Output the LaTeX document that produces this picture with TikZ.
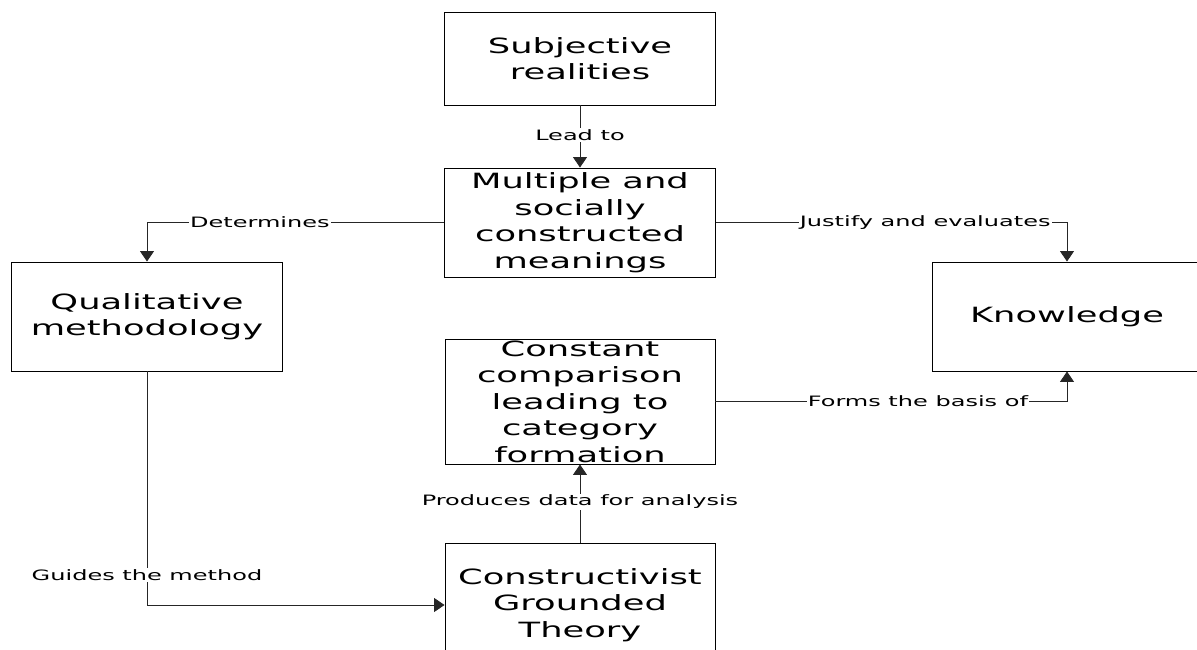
\documentclass[tikz,border=0pt]{standalone}
\usepackage{fontspec}
\newfontfamily\dv[FakeStretch=1.68]{DejaVu Sans}
\usetikzlibrary{arrows.meta}
\tikzset{
  box/.style={draw=black, line width=0.9pt, fill=white, align=center, inner sep=0pt,
    font=\dv\fontsize{21}{26.5}\selectfont},
  conn/.style={draw=black!85, line width=0.9pt},
  arr/.style={conn, -{Triangle[width=14pt,length=10.5pt]}},
  lbl/.style={fill=white, inner sep=1.2pt, font=\dv\fontsize{14.3}{16}\selectfont}
}
\begin{document}
\begin{tikzpicture}[x=1pt,y=-1pt]
\useasboundingbox (0,0) rectangle (1197,650);
\node[box, minimum width=271pt, minimum height=93pt] (sub) at (580,58.5) {Subjective\\realities};
\node[box, minimum width=271pt, minimum height=109pt] (mult) at (580,222.5) {Multiple and\\socially\\constructed\\meanings};
\node[box, minimum width=271pt, minimum height=109pt] (qual) at (147,316.5) {Qualitative\\methodology};
\node[box, minimum width=270pt, minimum height=109pt] (know) at (1067,316.5) {Knowledge};
\node[box, minimum width=270pt, minimum height=125pt] (const) at (580,401.5) {Constant\\comparison\\leading to\\category\\formation};
\node[box, minimum width=270pt, minimum height=124pt] (cgt) at (580,605) {Constructivist\\Grounded\\Theory};

\draw[arr] (sub.south) -- node[lbl, pos=0.476] {Lead to} (mult.north);
\draw[arr] (mult.west) -| node[lbl, pos=0.31] {Determines} (qual.north);
\draw[arr] (mult.east) -| node[lbl, pos=0.298] {Justify and evaluates} (know.north);
\draw[arr] (const.east) -| node[lbl, pos=0.288] {Forms the basis of} (know.south);
\draw[arr] (qual.south) |- node[lbl, pos=0.436] {Guides the method} (cgt.west);
\draw[arr] (cgt.north) -- node[lbl, pos=0.52] {Produces data for analysis} (const.south);
\end{tikzpicture}
\end{document}
